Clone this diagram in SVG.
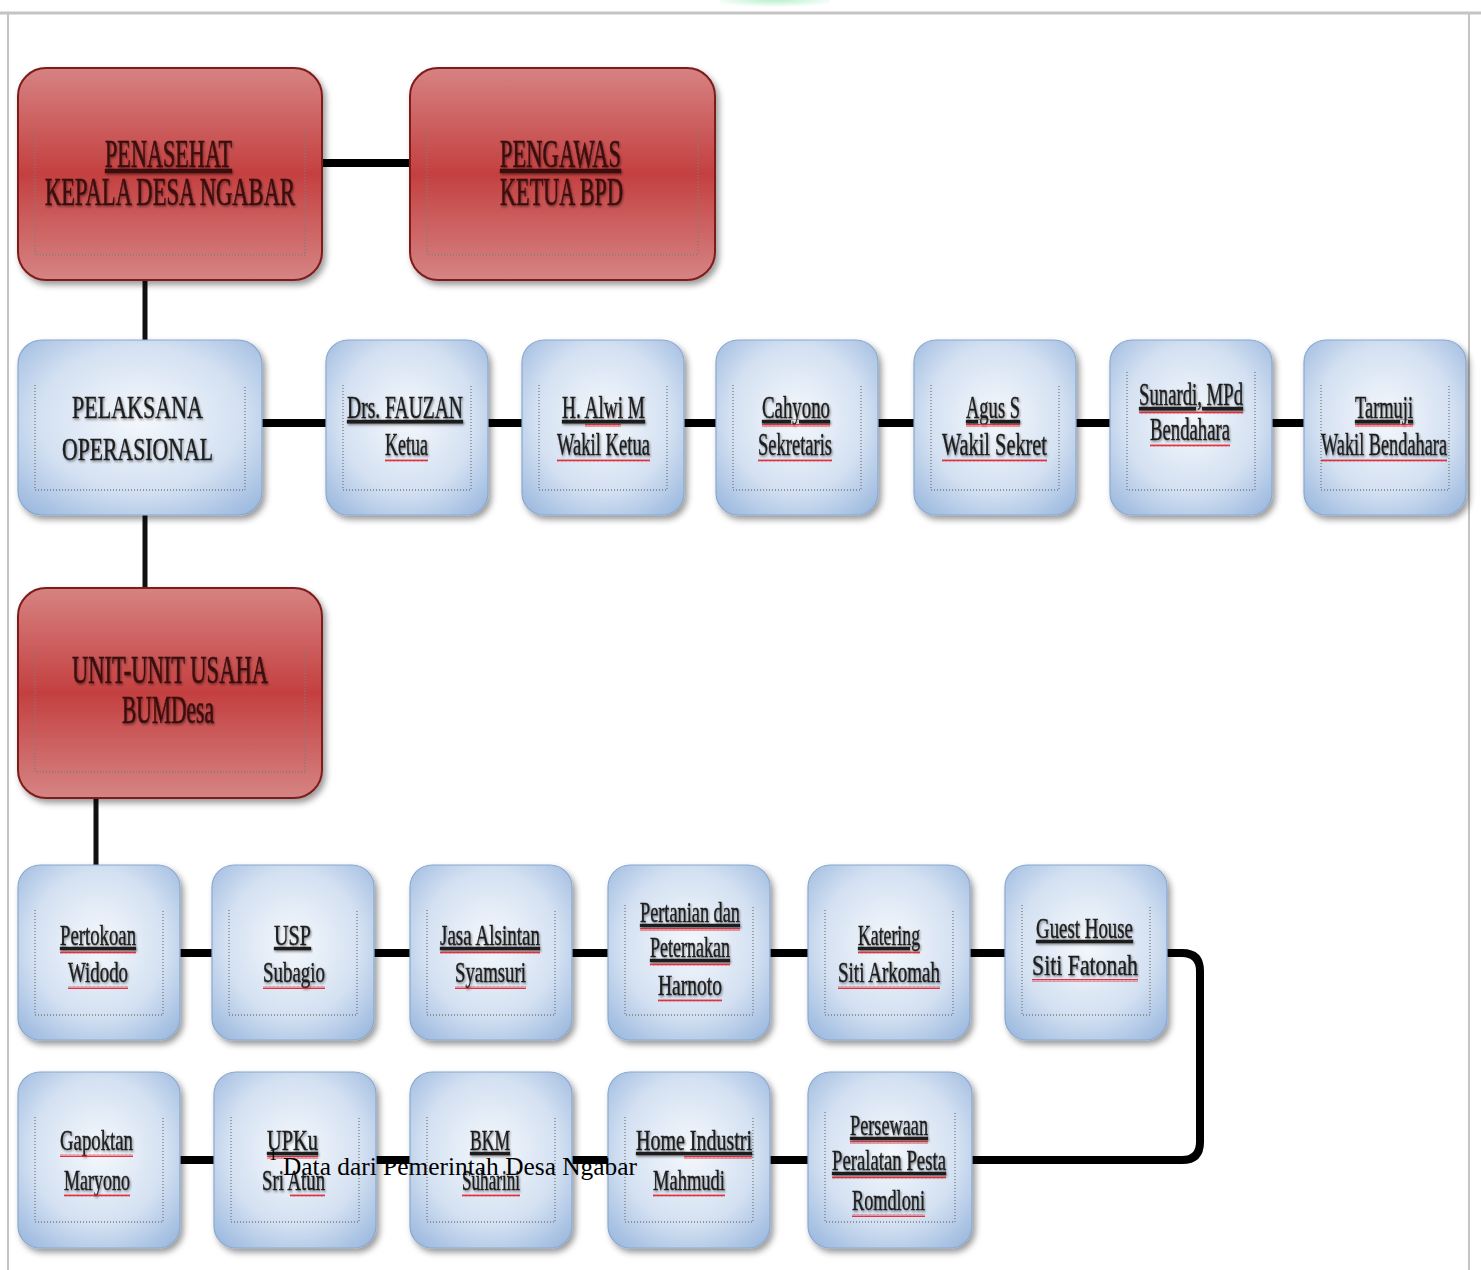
<svg xmlns="http://www.w3.org/2000/svg" width="1481" height="1270" viewBox="0 0 1481 1270">
<defs>
<linearGradient id="gRed" x1="0" y1="0" x2="0" y2="1">
<stop offset="0" stop-color="#d78282"/><stop offset="0.5" stop-color="#c44040"/><stop offset="1" stop-color="#d68484"/>
</linearGradient>
<radialGradient id="gBlue" cx="0.5" cy="0.45" r="0.75">
<stop offset="0" stop-color="#f5f8fc"/><stop offset="0.55" stop-color="#d4e1f2"/><stop offset="1" stop-color="#92b2db"/>
</radialGradient>
<radialGradient id="gGreen" cx="0.5" cy="0" r="0.6">
<stop offset="0" stop-color="#b8f0cc"/><stop offset="1" stop-color="#b8f0cc" stop-opacity="0"/>
</radialGradient>
<filter id="sh" x="-10%" y="-10%" width="125%" height="130%">
<feDropShadow dx="3" dy="4" stdDeviation="3" flood-color="#000" flood-opacity="0.4"/>
</filter>
<filter id="tsh" x="-5%" y="-20%" width="110%" height="150%">
<feDropShadow dx="1" dy="1.5" stdDeviation="0.8" flood-color="#000" flood-opacity="0.45"/>
</filter>
<pattern id="wave" width="4" height="3" patternUnits="userSpaceOnUse">
<path d="M0,2.5 L1,0.5 L2,2.5 L3,0.5 L4,2.5" fill="none" stroke="#e0202a" stroke-width="0.9"/>
</pattern>
<style>
.red{fill:url(#gRed);stroke:#7e1c1c;stroke-width:2;filter:url(#sh)}
.blue{fill:url(#gBlue);stroke:#8aa8cf;stroke-width:1.2;filter:url(#sh)}
.fr{fill:none;stroke:#7d7d7d;stroke-width:1.3;stroke-dasharray:1 2}
.t{font-family:"Liberation Serif","Times New Roman",serif;fill:#1c1c1c;stroke:#1c1c1c;stroke-width:0.4;filter:url(#tsh)}
.rt{font-family:"Liberation Serif","Times New Roman",serif;fill:#3a0b0b;stroke:#3a0b0b;stroke-width:0.5;font-size:39px;filter:url(#tsh)}
.b{font-size:32px}
.s{font-size:30px}
.u{text-decoration:underline}
.sp{fill:url(#wave)}
.c{fill:none;stroke:#000;stroke-width:8}
.cv{fill:none;stroke:#111;stroke-width:5}
.bd{stroke:#c4c4c4;fill:none}
.fn{font-family:"Liberation Serif","Times New Roman",serif;fill:#000}
</style>
</defs>
<rect width="1481" height="1270" fill="#fff"/>
<g id="frame">
<rect x="720" y="0" width="110" height="12" fill="url(#gGreen)"/>
<line class="bd" x1="0" y1="13" x2="1481" y2="13" stroke-width="3"/>
<line class="bd" x1="8" y1="13" x2="8" y2="1270" stroke-width="2"/>
<line class="bd" x1="1469" y1="13" x2="1469" y2="1270" stroke-width="2"/>
</g>
<g id="connectors">
<path class="c" d="M322,163 H410"/>
<path class="cv" d="M145,280 V340"/>
<path class="c" d="M262,423 H1304"/>
<path class="cv" d="M145,515 V588"/>
<path class="cv" d="M96,798 V865"/>
<path class="c" d="M180,953 H1005"/>
<path class="c" d="M1167,953 H1182 Q1200,953 1200,971 V1142 Q1200,1160 1182,1160 H972"/>
<path class="c" d="M180,1160 H808"/>
</g>

<g id="penasehat">
<rect class="red" x="18" y="68" width="304" height="212" rx="28"/>
<path class="fr" d="M35,128 V255 H305 V128"/>
<text class="rt u" x="105" y="167" textLength="127" lengthAdjust="spacingAndGlyphs">PENASEHAT</text>
<text class="rt" x="45" y="205" textLength="250" lengthAdjust="spacingAndGlyphs">KEPALA DESA NGABAR</text>
</g>
<g id="pengawas">
<rect class="red" x="410" y="68" width="305" height="212" rx="28"/>
<path class="fr" d="M427,128 V255 H698 V128"/>
<text class="rt u" x="500" y="167" textLength="121" lengthAdjust="spacingAndGlyphs">PENGAWAS</text>
<text class="rt" x="500" y="205" textLength="123" lengthAdjust="spacingAndGlyphs">KETUA BPD</text>
</g>

<g id="pelaksana">
<rect class="blue" x="18" y="340" width="244" height="175" rx="24"/>
<path class="fr" d="M35,385 V490 H245 V385"/>
<text class="t b" x="72" y="418" textLength="131" lengthAdjust="spacingAndGlyphs">PELAKSANA</text>
<text class="t b" x="62" y="460" textLength="151" lengthAdjust="spacingAndGlyphs">OPERASIONAL</text>
</g>
<g id="ketua">
<rect class="blue" x="326" y="340" width="162" height="175" rx="22"/>
<path class="fr" d="M343,385 V490 H471 V385"/>
<text class="t b u" x="347" y="418" textLength="116" lengthAdjust="spacingAndGlyphs">Drs. FAUZAN</text>
<text class="t b" x="385" y="455" textLength="43" lengthAdjust="spacingAndGlyphs">Ketua</text>
<rect class="sp" x="385" y="459" width="43" height="3"/>
</g>
<g id="wakil-ketua">
<rect class="blue" x="522" y="340" width="162" height="175" rx="22"/>
<path class="fr" d="M539,385 V490 H667 V385"/>
<text class="t b u" x="562" y="418" textLength="83" lengthAdjust="spacingAndGlyphs">H. Alwi M</text>
<rect class="sp" x="585" y="424" width="36" height="3"/>
<text class="t b" x="557" y="455" textLength="93" lengthAdjust="spacingAndGlyphs">Wakil Ketua</text>
<rect class="sp" x="557" y="459" width="93" height="3"/>
</g>
<g id="sekretaris">
<rect class="blue" x="716" y="340" width="162" height="175" rx="22"/>
<path class="fr" d="M733,385 V490 H861 V385"/>
<text class="t b u" x="762" y="418" textLength="68" lengthAdjust="spacingAndGlyphs">Cahyono</text>
<rect class="sp" x="762" y="424" width="68" height="3"/>
<text class="t b" x="758" y="455" textLength="74" lengthAdjust="spacingAndGlyphs">Sekretaris</text>
<rect class="sp" x="758" y="459" width="74" height="3"/>
</g>
<g id="wakil-sekret">
<rect class="blue" x="914" y="340" width="162" height="175" rx="22"/>
<path class="fr" d="M931,385 V490 H1059 V385"/>
<text class="t b u" x="966" y="418" textLength="54" lengthAdjust="spacingAndGlyphs">Agus S</text>
<rect class="sp" x="966" y="424" width="54" height="3"/>
<text class="t b" x="942" y="455" textLength="105" lengthAdjust="spacingAndGlyphs">Wakil  Sekret</text>
<rect class="sp" x="942" y="459" width="105" height="3"/>
</g>
<g id="bendahara">
<rect class="blue" x="1110" y="340" width="162" height="175" rx="22"/>
<path class="fr" d="M1127,372 V490 H1255 V372"/>
<text class="t b u" x="1139" y="405" textLength="104" lengthAdjust="spacingAndGlyphs">Sunardi, MPd</text>
<rect class="sp" x="1139" y="411" width="104" height="3"/>
<text class="t b" x="1150" y="440" textLength="80" lengthAdjust="spacingAndGlyphs">Bendahara</text>
<rect class="sp" x="1150" y="444" width="80" height="3"/>
</g>
<g id="wakil-bendahara">
<rect class="blue" x="1304" y="340" width="162" height="175" rx="22"/>
<path class="fr" d="M1321,385 V490 H1449 V385"/>
<text class="t b u" x="1355" y="418" textLength="58" lengthAdjust="spacingAndGlyphs">Tarmuji</text>
<rect class="sp" x="1355" y="424" width="58" height="3"/>
<text class="t b" x="1321" y="455" textLength="126" lengthAdjust="spacingAndGlyphs">Wakil Bendahara</text>
<rect class="sp" x="1321" y="459" width="126" height="3"/>
</g>

<g id="unit-usaha">
<rect class="red" x="18" y="588" width="304" height="210" rx="28"/>
<path class="fr" d="M35,648 V772 H305 V648"/>
<text class="rt" x="72" y="683" textLength="196" lengthAdjust="spacingAndGlyphs">UNIT-UNIT USAHA</text>
<text class="rt" x="122" y="723" textLength="92" lengthAdjust="spacingAndGlyphs">BUMDesa</text>
</g>

<g id="pertokoan">
<rect class="blue" x="18" y="865" width="162" height="175" rx="22"/>
<path class="fr" d="M35,910 V1015 H163 V910"/>
<text class="t s u" x="60" y="945" textLength="76" lengthAdjust="spacingAndGlyphs">Pertokoan</text>
<rect class="sp" x="60" y="951" width="76" height="3"/>
<text class="t s" x="68" y="982" textLength="60" lengthAdjust="spacingAndGlyphs">Widodo</text>
<rect class="sp" x="68" y="986" width="60" height="3"/>
</g>
<g id="usp">
<rect class="blue" x="212" y="865" width="162" height="175" rx="22"/>
<path class="fr" d="M229,910 V1015 H357 V910"/>
<text class="t s u" x="274" y="945" textLength="37" lengthAdjust="spacingAndGlyphs">USP</text>
<text class="t s" x="263" y="982" textLength="62" lengthAdjust="spacingAndGlyphs">Subagio</text>
<rect class="sp" x="263" y="986" width="62" height="3"/>
</g>
<g id="jasa-alsintan">
<rect class="blue" x="410" y="865" width="162" height="175" rx="22"/>
<path class="fr" d="M427,910 V1015 H555 V910"/>
<text class="t s u" x="440" y="945" textLength="100" lengthAdjust="spacingAndGlyphs">Jasa Alsintan</text>
<rect class="sp" x="440" y="951" width="100" height="3"/>
<text class="t s" x="455" y="982" textLength="71" lengthAdjust="spacingAndGlyphs">Syamsuri</text>
<rect class="sp" x="455" y="986" width="71" height="3"/>
</g>
<g id="pertanian">
<rect class="blue" x="608" y="865" width="162" height="175" rx="22"/>
<path class="fr" d="M625,905 V1015 H753 V905"/>
<text class="t s u" x="640" y="922" textLength="100" lengthAdjust="spacingAndGlyphs">Pertanian dan</text>
<rect class="sp" x="640" y="928" width="100" height="3"/>
<text class="t s u" x="650" y="957" textLength="80" lengthAdjust="spacingAndGlyphs">Peternakan</text>
<rect class="sp" x="650" y="963" width="80" height="3"/>
<text class="t s" x="658" y="995" textLength="64" lengthAdjust="spacingAndGlyphs">Harnoto</text>
<rect class="sp" x="658" y="999" width="64" height="3"/>
</g>
<g id="katering">
<rect class="blue" x="808" y="865" width="162" height="175" rx="22"/>
<path class="fr" d="M825,910 V1015 H953 V910"/>
<text class="t s u" x="858" y="945" textLength="62" lengthAdjust="spacingAndGlyphs">Katering</text>
<rect class="sp" x="858" y="951" width="62" height="3"/>
<text class="t s" x="838" y="982" textLength="102" lengthAdjust="spacingAndGlyphs">Siti Arkomah</text>
<rect class="sp" x="838" y="986" width="102" height="3"/>
</g>
<g id="guest-house">
<rect class="blue" x="1005" y="865" width="162" height="175" rx="22"/>
<path class="fr" d="M1022,905 V1015 H1150 V905"/>
<text class="t s u" x="1036" y="938" textLength="97" lengthAdjust="spacingAndGlyphs">Guest House</text>
<text class="t s" x="1032" y="975" textLength="106" lengthAdjust="spacingAndGlyphs">Siti Fatonah</text>
<rect class="sp" x="1032" y="979" width="106" height="3"/>
</g>

<g id="gapoktan">
<rect class="blue" x="18" y="1072" width="162" height="176" rx="22"/>
<path class="fr" d="M35,1117 V1222 H163 V1117"/>
<text class="t s" x="60" y="1150" textLength="73" lengthAdjust="spacingAndGlyphs">Gapoktan</text>
<rect class="sp" x="60" y="1154" width="73" height="3"/>
<text class="t s" x="64" y="1190" textLength="66" lengthAdjust="spacingAndGlyphs">Maryono</text>
<rect class="sp" x="64" y="1194" width="66" height="3"/>
</g>
<g id="upku">
<rect class="blue" x="214" y="1072" width="162" height="176" rx="22"/>
<path class="fr" d="M231,1117 V1222 H359 V1117"/>
<text class="t s u" x="267" y="1150" textLength="51" lengthAdjust="spacingAndGlyphs">UPKu</text>
<rect class="sp" x="267" y="1156" width="51" height="3"/>
<text class="t s" x="262" y="1190" textLength="63" lengthAdjust="spacingAndGlyphs">Sri Atun</text>
<rect class="sp" x="290" y="1194" width="35" height="3"/>
</g>
<g id="bkm">
<rect class="blue" x="410" y="1072" width="162" height="176" rx="22"/>
<path class="fr" d="M427,1117 V1222 H555 V1117"/>
<text class="t s u" x="470" y="1150" textLength="40" lengthAdjust="spacingAndGlyphs">BKM</text>
<text class="t s" x="462" y="1190" textLength="58" lengthAdjust="spacingAndGlyphs">Suharini</text>
<rect class="sp" x="462" y="1194" width="58" height="3"/>
</g>
<g id="home-industri">
<rect class="blue" x="608" y="1072" width="162" height="176" rx="22"/>
<path class="fr" d="M625,1117 V1222 H753 V1117"/>
<text class="t s u" x="636" y="1150" textLength="116" lengthAdjust="spacingAndGlyphs">Home Industri</text>
<rect class="sp" x="684" y="1156" width="68" height="3"/>
<text class="t s" x="653" y="1190" textLength="72" lengthAdjust="spacingAndGlyphs">Mahmudi</text>
<rect class="sp" x="653" y="1194" width="72" height="3"/>
</g>
<g id="persewaan">
<rect class="blue" x="808" y="1072" width="164" height="176" rx="22"/>
<path class="fr" d="M825,1112 V1222 H955 V1112"/>
<text class="t s u" x="850" y="1135" textLength="78" lengthAdjust="spacingAndGlyphs">Persewaan</text>
<rect class="sp" x="850" y="1141" width="78" height="3"/>
<text class="t s u" x="832" y="1170" textLength="114" lengthAdjust="spacingAndGlyphs">Peralatan Pesta</text>
<rect class="sp" x="832" y="1176" width="114" height="3"/>
<text class="t s" x="852" y="1210" textLength="73" lengthAdjust="spacingAndGlyphs">Romdloni</text>
<rect class="sp" x="852" y="1214" width="73" height="3"/>
</g>

<g id="footnote">
<text class="fn" x="269" y="1160" font-size="16">1</text>
<text class="fn" x="283" y="1175" font-size="25" textLength="354" lengthAdjust="spacingAndGlyphs">Data dari Pemerintah Desa Ngabar</text>
</g>
</svg>
